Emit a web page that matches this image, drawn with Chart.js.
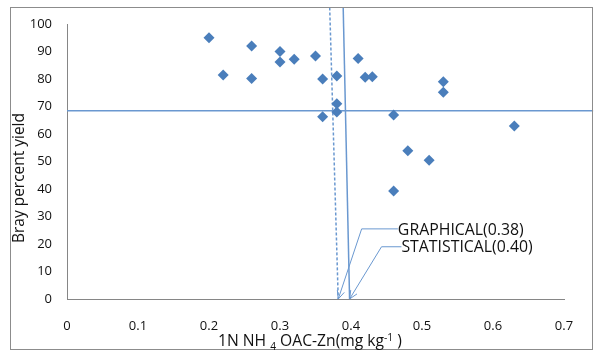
<!DOCTYPE html>
<html>
<head>
<meta charset="utf-8">
<script src="https://cdn.jsdelivr.net/npm/chart.js@4.4.0/dist/chart.umd.min.js"></script>
<style>
  html, body { margin: 0; padding: 0; background: #fff; }
  #wrap { width: 594px; height: 352px; }
</style>
</head>
<body>
<div id="wrap"><canvas id="zincChart"></canvas></div>
<script>
// Zn (1N NH4OAC, mg/kg) vs Bray percent yield
const znValues    = [0.20, 0.22, 0.26, 0.26, 0.30, 0.30, 0.32, 0.35, 0.36, 0.36, 0.38, 0.38, 0.38, 0.41, 0.42, 0.43, 0.46, 0.46, 0.48, 0.51, 0.53, 0.53, 0.63];
const yieldValues = [95, 81.5, 92, 80.2, 90, 86.2, 87.2, 88.4, 80, 66.3, 81.1, 71, 68, 87.5, 80.6, 80.8, 66.9, 39.3, 53.9, 50.5, 79, 75.2, 62.9];

// critical level lines
const cutoffX = [0, 0.741];
const cutoffY = [68.5, 68.5];
const graphicalX = [0.370, 0.382];
const graphicalY = [106, 0];
const statisticalX = [0.389, 0.398];
const statisticalY = [106, 0];

const xTickLabels = ['0', '0.1', '0.2', '0.3', '0.4', '0.5', '0.6', '0.7'];
const yTickLabels = ['0', '10', '20', '30', '40', '50', '60', '70', '80', '90', '100'];

const blue = '#4a7ebb';
const lineBlue = '#6a98d0';
const font = "'Open Sans', 'Liberation Sans', sans-serif";

function pairs(xs, ys) {
  return xs.map((x, i) => ({ x: x, y: ys[i] }));
}

// pick a font size so the text takes about the width seen in the picture
function fitSize(ctx, text, width) {
  ctx.font = '20px ' + font;
  return 20 * width / ctx.measureText(text).width;
}

function arrow(ctx, pts) {
  ctx.beginPath();
  ctx.moveTo(pts[0][0], pts[0][1]);
  for (let i = 1; i < pts.length; i++) ctx.lineTo(pts[i][0], pts[i][1]);
  ctx.stroke();
  const [x1, y1] = pts[pts.length - 2];
  const [x2, y2] = pts[pts.length - 1];
  const a = Math.atan2(y2 - y1, x2 - x1);
  const len = 9, spread = 0.42;
  ctx.beginPath();
  ctx.moveTo(x2 - len * Math.cos(a - spread), y2 - len * Math.sin(a - spread));
  ctx.lineTo(x2, y2);
  ctx.lineTo(x2 - len * Math.cos(a + spread), y2 - len * Math.sin(a + spread));
  ctx.stroke();
}

const decorPlugin = {
  id: 'decor',
  afterDraw(chart) {
    const ctx = chart.ctx;
    const xs = chart.scales.x, ys = chart.scales.y;
    ctx.save();

    // outer border
    ctx.strokeStyle = '#8c8c8c';
    ctx.lineWidth = 1;
    ctx.strokeRect(10.5, 7.5, 582, 342);

    // arrows to the critical levels
    ctx.strokeStyle = lineBlue;
    ctx.lineWidth = 1;
    arrow(ctx, [
      [xs.getPixelForValue(0.466), ys.getPixelForValue(25.5)],
      [xs.getPixelForValue(0.415), ys.getPixelForValue(25.5)],
      [xs.getPixelForValue(graphicalX[1]), ys.getPixelForValue(0)]
    ]);
    arrow(ctx, [
      [xs.getPixelForValue(0.471), ys.getPixelForValue(19)],
      [xs.getPixelForValue(0.443), ys.getPixelForValue(19)],
      [xs.getPixelForValue(statisticalX[1]), ys.getPixelForValue(0)]
    ]);

    ctx.fillStyle = '#111';
    ctx.textBaseline = 'middle';
    ctx.textAlign = 'left';
    const labSize = fitSize(ctx, 'GRAPHICAL(0.38)', 126);
    ctx.font = labSize + 'px ' + font;
    ctx.fillText('GRAPHICAL(0.38)', xs.getPixelForValue(0.466), ys.getPixelForValue(25.5) + 2);
    ctx.fillText('STATISTICAL(0.40)', xs.getPixelForValue(0.471), ys.getPixelForValue(19) + 1);

    // y title
    ctx.save();
    ctx.translate(20, 178);
    ctx.rotate(-Math.PI / 2);
    ctx.textAlign = 'center';
    ctx.font = fitSize(ctx, 'Bray percent yield', 130) + 'px ' + font;
    ctx.fillText('Bray percent yield', 0, 0);
    ctx.restore();

    // x title with sub/superscript
    const parts = [
      ['1N NH ', 1, 0],
      ['4', 0.65, 4],
      [' OAC-Zn(mg kg', 1, 0],
      ['-1', 0.65, -5],
      [' )', 1, 0]
    ];
    ctx.textBaseline = 'alphabetic';
    let total = 0;
    parts.forEach(p => { ctx.font = (20 * p[1]) + 'px ' + font; total += ctx.measureText(p[0]).width; });
    const tSize = 20 * 184 / total;
    let px = 310 - 92;
    parts.forEach(p => {
      ctx.font = (tSize * p[1]) + 'px ' + font;
      ctx.fillText(p[0], px, 346 + p[2]);
      px += ctx.measureText(p[0]).width;
    });

    ctx.restore();
  }
};

new Chart(document.getElementById('zincChart'), {
  type: 'scatter',
  data: {
    datasets: [
      {
        label: 'yield',
        data: pairs(znValues, yieldValues),
        pointStyle: 'rectRot',
        pointRadius: 5.5,
        pointHoverRadius: 5.5,
        backgroundColor: blue,
        borderColor: blue,
        borderWidth: 0
      },
      {
        label: 'cutoff',
        data: pairs(cutoffX, cutoffY),
        showLine: true,
        pointRadius: 0,
        borderColor: lineBlue,
        borderWidth: 1.5,
        clip: false
      },
      {
        label: 'graphical',
        data: pairs(graphicalX, graphicalY),
        showLine: true,
        pointRadius: 0,
        borderColor: lineBlue,
        borderWidth: 1.5,
        borderDash: [3, 2],
        clip: false
      },
      {
        label: 'statistical',
        data: pairs(statisticalX, statisticalY),
        showLine: true,
        pointRadius: 0,
        borderColor: lineBlue,
        borderWidth: 1.5,
        clip: false
      }
    ]
  },
  options: {
    responsive: true,
    maintainAspectRatio: false,
    animation: false,
    layout: { padding: { top: 24, right: 30, left: 0, bottom: 0 } },
    plugins: {
      legend: { display: false },
      tooltip: { enabled: false }
    },
    scales: {
      x: {
        type: 'linear',
        min: 0,
        max: 0.7,
        afterFit: s => { s.height = 53; },
        afterBuildTicks: s => { s.ticks = xTickLabels.map(v => ({ value: parseFloat(v) })); },
        grid: { display: false, drawTicks: false },
        border: { color: '#868686', width: 1 },
        ticks: {
          padding: 19,
          color: '#111',
          font: { family: font, size: 13 },
          callback: (v, i) => xTickLabels[i]
        }
      },
      y: {
        min: 0,
        max: 100,
        afterFit: s => { s.width = 67; },
        afterBuildTicks: s => { s.ticks = yTickLabels.map(v => ({ value: parseFloat(v) })); },
        grid: { display: false, drawTicks: false },
        border: { color: '#868686', width: 1 },
        ticks: {
          padding: 15,
          color: '#111',
          font: { family: font, size: 13 },
          callback: (v, i) => yTickLabels[i]
        }
      }
    }
  },
  plugins: [decorPlugin]
});
</script>
</body>
</html>
